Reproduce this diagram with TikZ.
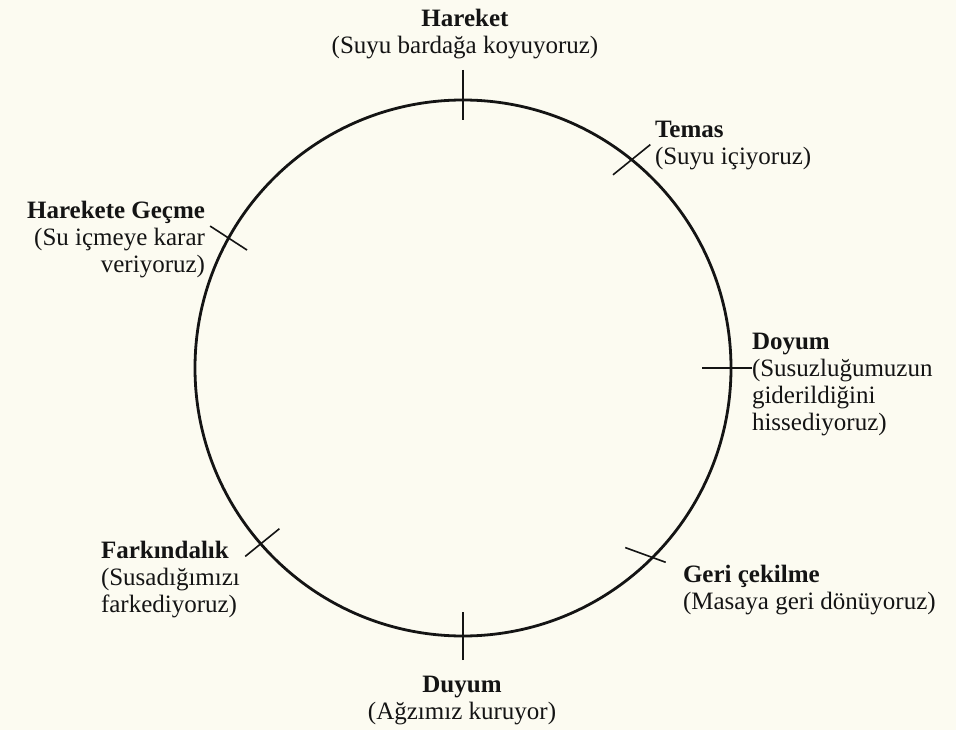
\documentclass[tikz,border=0pt]{standalone}
\usepackage{fontspec}
\setmainfont{Liberation Serif}
\usetikzlibrary{calc}
\definecolor{paper}{RGB}{252,251,241}
\definecolor{ink}{RGB}{20,20,20}
\begin{document}
\begin{tikzpicture}[x=1pt,y=-1pt,
  lbl/.style={inner sep=0pt, outer sep=0pt, text=ink, font=\fontsize{25}{27}\selectfont},
  tickmark/.style={draw=ink, line width=1.6pt},
  ring/.style={draw=ink, line width=2.8pt, circle, minimum size=536pt, inner sep=0pt, outer sep=0pt}]
\fill[paper] (0,0) rectangle (956,730);
\useasboundingbox (0,0) rectangle (956,730);
\node[ring] (c) at (463,368) {};
% ticks
\draw[tickmark] ($(c.90)+(90:30pt)$) -- ($(c.90)+(270:20pt)$);
\draw[tickmark] ($(c.51)+(39:24pt)$) -- ($(c.51)+(219:24pt)$);
\draw[tickmark] ($(c.151)+(147:22pt)$) -- ($(c.151)+(327:22pt)$);
\draw[tickmark] ($(c.0)+(0:21pt)$) -- ($(c.0)+(180:29pt)$);
\draw[tickmark] ($(c.-45)+(-20:14pt)$) -- ($(c.-45)+(160:29pt)$);
\draw[tickmark] ($(c.221)+(219:20pt)$) -- ($(c.221)+(39:24pt)$);
\draw[tickmark] ($(c.270)+(270:24pt)$) -- ($(c.270)+(90:24pt)$);
% labels
\node[lbl, anchor=north, align=center] (hareket) at (465,9) {\textbf{Hareket}\\(Suyu bardağa koyuyoruz)};
\node[lbl, anchor=north west, align=left] (temas) at (655,121) {\textbf{Temas}\\(Suyu içiyoruz)};
\node[lbl, anchor=north east, align=right] (gecme) at (205,201) {\textbf{Harekete Geçme}\\(Su içmeye karar\\veriyoruz)};
\node[lbl, anchor=north west, align=left] (doyum) at (752,333) {\textbf{Doyum}\\(Susuzluğumuzun\\giderildiğini\\hissediyoruz)};
\node[lbl, anchor=north west, align=left] (fark) at (101,541) {\textbf{Farkındalık}\\(Susadığımızı\\farkediyoruz)};
\node[lbl, anchor=north west, align=left] (geri) at (683,565) {\textbf{Geri çekilme}\\(Masaya geri dönüyoruz)};
\node[lbl, anchor=north, align=center] (duyum) at (462,676) {\textbf{Duyum}\\(Ağzımız kuruyor)};
\end{tikzpicture}
\end{document}
